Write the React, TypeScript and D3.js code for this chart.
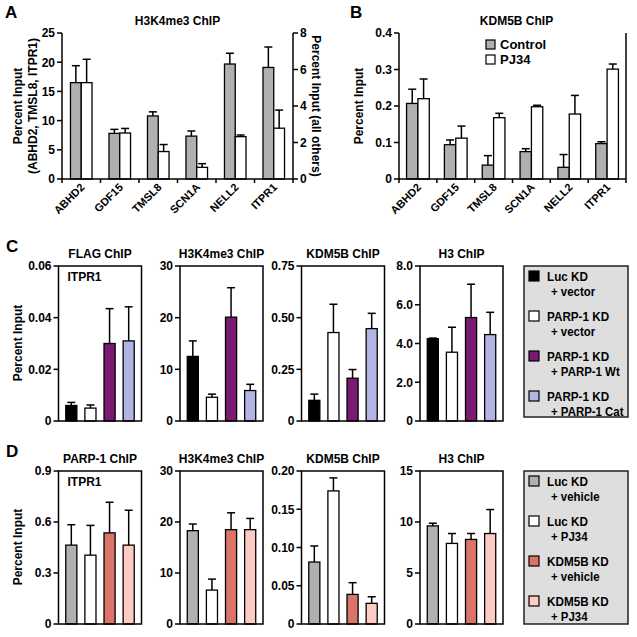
import React from "react";
import * as d3 from "d3";

const FONT = "'Liberation Sans', Arial, Helvetica, sans-serif";

// ---------- Panel A: H3K4me3 ChIP ----------
const genes = ["ABHD2", "GDF15", "TMSL8", "SCN1A", "NELL2", "ITPR1"];
const aAxisSide = ["left", "right", "left", "right", "right", "left"];
const aControl = [16.5, 2.5, 10.8, 2.35, 6.3, 19.1];
const aControlErr = [2.9, 0.22, 0.7, 0.28, 0.59, 3.5];
const aPJ34 = [16.5, 2.52, 4.7, 0.64, 2.32, 8.7];
const aPJ34Err = [4.0, 0.25, 1.2, 0.2, 0.09, 3.1];
const aLeftTicks = [0, 5, 10, 15, 20, 25];
const aRightTicks = [0, 2, 4, 6, 8];

// ---------- Panel B: KDM5B ChIP ----------
const bControl = [0.207, 0.094, 0.038, 0.075, 0.032, 0.097];
const bControlErr = [0.039, 0.013, 0.026, 0.008, 0.035, 0.005];
const bPJ34 = [0.22, 0.112, 0.168, 0.198, 0.178, 0.301];
const bPJ34Err = [0.054, 0.033, 0.012, 0.004, 0.051, 0.014];
const bTicks = [0, 0.1, 0.2, 0.3, 0.4];
const bTickLabels = ["0", "0.1", "0.2", "0.3", "0.4"];
const bSeries = ["Control", "PJ34"];

// ---------- Panel C ----------
const cConditions = ["Luc KD|+ vector", "PARP-1 KD|+ vector", "PARP-1 KD|+ PARP-1 Wt", "PARP-1 KD|+ PARP-1 Cat"];
const cColors = ["#000000", "#ffffff", "#7b1a72", "#b2b5e4"];
const cTitles = ["FLAG ChIP", "H3K4me3 ChIP", "KDM5B ChIP", "H3 ChIP"];
const cFlag = [0.006, 0.005, 0.030, 0.031];
const cFlagErr = [0.0012, 0.0012, 0.0135, 0.0132];
const cH3K4 = [12.5, 4.6, 20.1, 5.9];
const cH3K4Err = [3.0, 0.6, 5.7, 1.2];
const cKDM5B = [0.1, 0.428, 0.207, 0.447];
const cKDM5BErr = [0.03, 0.137, 0.042, 0.074];
const cH3 = [4.25, 3.55, 5.34, 4.46];
const cH3Err = [0.03, 1.29, 1.72, 1.15];
const cTicks = [[0, 0.02, 0.04, 0.06], [0, 10, 20, 30], [0, 0.25, 0.5, 0.75], [0, 2, 4, 6, 8]];
const cTickLabels = [["0", "0.02", "0.04", "0.06"], ["0", "10", "20", "30"], ["0", "0.25", "0.50", "0.75"], ["0", "2.0", "4.0", "6.0", "8.0"]];

// ---------- Panel D ----------
const dConditions = ["Luc KD|+ vehicle", "Luc KD|+ PJ34", "KDM5B KD|+ vehicle", "KDM5B KD|+ PJ34"];
const dColors = ["#b0b0b0", "#ffffff", "#db7468", "#fdcbc4"];
const dTitles = ["PARP-1 ChIP", "H3K4me3 ChIP", "KDM5B ChIP", "H3 ChIP"];
const dParp = [0.464, 0.405, 0.536, 0.464];
const dParpErr = [0.12, 0.175, 0.18, 0.205];
const dH3K4 = [18.3, 6.65, 18.5, 18.5];
const dH3K4Err = [1.3, 2.15, 3.3, 2.2];
const dKDM5B = [0.081, 0.174, 0.0387, 0.027];
const dKDM5BErr = [0.021, 0.017, 0.0153, 0.0086];
const dH3 = [9.62, 7.9, 8.29, 8.87];
const dH3Err = [0.26, 0.97, 0.58, 2.35];
const dTicks = [[0, 0.3, 0.6, 0.9], [0, 10, 20, 30], [0, 0.05, 0.1, 0.15, 0.2], [0, 5, 10, 15]];
const dTickLabels = [["0", "0.3", "0.6", "0.9"], ["0", "10", "20", "30"], ["0", "0.05", "0.10", "0.15", "0.20"], ["0", "5", "10", "15"]];

const GRAY = "#b0b0b0";
const colLefts = [58.5, 180, 301.5, 420];
const colW = 83;

function Bar({ x, w, y0, y1, fill }: any) {
  return <rect x={x} y={Math.min(y0, y1)} width={w} height={Math.abs(y0 - y1)} fill={fill} stroke="#000" strokeWidth={1.3} />;
}

function Err({ cx, yv, ye }: any) {
  return (
    <g stroke="#000" strokeWidth={1.5}>
      <line x1={cx} x2={cx} y1={yv} y2={ye} />
      <line x1={cx - 4} x2={cx + 4} y1={ye} y2={ye} />
    </g>
  );
}

function SubPlot({ x0, top, bottom, values, errs, colors, ticks, tickLabels, title, inset }: any) {
  const y = d3.scaleLinear().domain([0, ticks[ticks.length - 1]]).range([bottom, top]);
  const x = d3.scaleBand<number>().domain(values.map((_: any, i: number) => i)).range([x0, x0 + colW]).paddingInner(0.42).paddingOuter(0.38);
  const bw = x.bandwidth();
  return (
    <g>
      <text x={x0 + colW / 2} y={top - 8} textAnchor="middle" fontSize={12} fontWeight="bold">{title}</text>
      {values.map((v: number, i: number) => (
        <Bar key={"b" + i} x={x(i)} w={bw} y0={y(0)} y1={y(v)} fill={colors[i]} />
      ))}
      {values.map((v: number, i: number) => (
        <Err key={"e" + i} cx={(x(i) as number) + bw / 2} yv={y(v)} ye={y(v + errs[i])} />
      ))}
      <rect x={x0} y={top} width={colW} height={bottom - top} fill="none" stroke="#000" strokeWidth={1.5} />
      {ticks.map((t: number, i: number) => (
        <g key={"t" + i}>
          <line x1={x0 - 5} x2={x0} y1={y(t)} y2={y(t)} stroke="#000" strokeWidth={1.5} />
          <text x={x0 - 7} y={y(t)} dy="0.36em" textAnchor="end" fontSize={12} fontWeight="bold">{tickLabels[i]}</text>
        </g>
      ))}
      {inset ? <text x={x0 + 9} y={top + 15} fontSize={12} fontWeight="bold">{inset}</text> : null}
    </g>
  );
}

function Legend({ x, y, w, h, labels, colors }: any) {
  return (
    <g>
      <rect x={x} y={y} width={w} height={h} fill="#dedede" stroke="#222" strokeWidth={1.5} />
      {labels.map((lab: string, i: number) => {
        const [l1, l2] = lab.split("|");
        const yy = y + 5 + i * 40;
        return (
          <g key={i}>
            <rect x={x + 5} y={yy} width={10} height={10} fill={colors[i]} stroke="#000" strokeWidth={1.2} />
            <text transform={`translate(${x + 23},${yy + 9.5}) scale(0.9,1)`} fontSize={13} fontWeight="bold">{l1}</text>
            <text transform={`translate(${x + 27},${yy + 24.5}) scale(0.88,1)`} fontSize={13} fontWeight="bold">{l2}</text>
          </g>
        );
      })}
    </g>
  );
}

export default function App() {
  // Panel A scales
  const aL = 62, aR = 293, aT = 33, aB = 179;
  const ayL = d3.scaleLinear().domain([0, 25]).range([aB, aT]);
  const ayR = d3.scaleLinear().domain([0, 8]).range([aB, aT]);
  const ax = d3.scaleBand<string>().domain(genes).range([aL, aR]).paddingInner(0.44).paddingOuter(0.22);
  const aBw = ax.bandwidth() / 2;

  // Panel B scales
  const bL = 399, bR = 626, bT = 33, bB = 179;
  const by = d3.scaleLinear().domain([0, 0.4]).range([bB, bT]);
  const bx = d3.scaleBand<string>().domain(genes).range([bL, bR]).paddingInner(0.4).paddingOuter(0.2);
  const bBw = bx.bandwidth() / 2;

  const cVals = [cFlag, cH3K4, cKDM5B, cH3];
  const cErrs = [cFlagErr, cH3K4Err, cKDM5BErr, cH3Err];
  const dVals = [dParp, dH3K4, dKDM5B, dH3];
  const dErrs = [dParpErr, dH3K4Err, dKDM5BErr, dH3Err];

  const catTicks = (L: number, R: number) => d3.range(genes.length + 1).map((i) => L + ((R - L) * i) / genes.length);

  return (
    <svg width={637} height={637} style={{ position: "absolute", left: 0, top: 0, background: "#fff" }} fontFamily={FONT} fill="#000">
      {/* Panel letters */}
      <text x={5} y={18} fontSize={17} fontWeight="bold">A</text>
      <text x={350} y={18} fontSize={17} fontWeight="bold">B</text>
      <text x={6} y={252} fontSize={17} fontWeight="bold">C</text>
      <text x={6} y={457} fontSize={17} fontWeight="bold">D</text>

      {/* ---- Panel A ---- */}
      <text x={(aL + aR) / 2} y={25} textAnchor="middle" fontSize={12} fontWeight="bold">H3K4me3 ChIP</text>
      {genes.map((g, i) => {
        const ys = aAxisSide[i] === "left" ? ayL : ayR;
        const x0 = ax(g) as number;
        return (
          <g key={g}>
            <Bar x={x0} w={aBw} y0={ys(0)} y1={ys(aControl[i])} fill={GRAY} />
            <Bar x={x0 + aBw} w={aBw} y0={ys(0)} y1={ys(aPJ34[i])} fill="#fff" />
            <Err cx={x0 + aBw / 2} yv={ys(aControl[i])} ye={ys(aControl[i] + aControlErr[i])} />
            <Err cx={x0 + aBw * 1.5} yv={ys(aPJ34[i])} ye={ys(aPJ34[i] + aPJ34Err[i])} />
          </g>
        );
      })}
      <g stroke="#000" strokeWidth={1.5}>
        <line x1={aL} x2={aL} y1={aT} y2={aB} />
        <line x1={aR} x2={aR} y1={aT} y2={aB} />
        <line x1={aL} x2={aR} y1={aB} y2={aB} />
        {catTicks(aL, aR).map((t, i) => <line key={i} x1={t} x2={t} y1={aB} y2={aB + 4} />)}
      </g>
      {aLeftTicks.map((t) => (
        <g key={"al" + t}>
          <line x1={aL - 5} x2={aL} y1={ayL(t)} y2={ayL(t)} stroke="#000" strokeWidth={1.5} />
          <text x={aL - 7} y={ayL(t)} dy="0.36em" textAnchor="end" fontSize={12} fontWeight="bold">{t}</text>
        </g>
      ))}
      {aRightTicks.map((t) => (
        <g key={"ar" + t}>
          <line x1={aR} x2={aR + 5} y1={ayR(t)} y2={ayR(t)} stroke="#000" strokeWidth={1.5} />
          <text x={aR + 7} y={ayR(t)} dy="0.36em" textAnchor="start" fontSize={12} fontWeight="bold">{t}</text>
        </g>
      ))}
      {genes.map((g) => (
        <text key={"al" + g} transform={`translate(${(ax(g) as number) + ax.bandwidth() / 2 + 4},${aB + 9}) rotate(-45)`} textAnchor="end" fontSize={11} fontWeight="bold">{g}</text>
      ))}
      <text transform={`translate(22,${(aT + aB) / 2}) rotate(-90)`} textAnchor="middle" fontSize={12} fontWeight="bold">Percent Input</text>
      <text transform={`translate(37,${(aT + aB) / 2}) rotate(-90)`} textAnchor="middle" fontSize={12} fontWeight="bold">(ABHD2, TMSL8, ITPR1)</text>
      <text transform={`translate(312,${(aT + aB) / 2}) rotate(90)`} textAnchor="middle" fontSize={12} fontWeight="bold">Percent Input (all others)</text>

      {/* ---- Panel B ---- */}
      <text x={(bL + bR) / 2 + 4} y={25} textAnchor="middle" fontSize={12} fontWeight="bold">KDM5B ChIP</text>
      {genes.map((g, i) => {
        const x0 = bx(g) as number;
        return (
          <g key={"b" + g}>
            <Bar x={x0} w={bBw} y0={by(0)} y1={by(bControl[i])} fill={GRAY} />
            <Bar x={x0 + bBw} w={bBw} y0={by(0)} y1={by(bPJ34[i])} fill="#fff" />
            <Err cx={x0 + bBw / 2} yv={by(bControl[i])} ye={by(bControl[i] + bControlErr[i])} />
            <Err cx={x0 + bBw * 1.5} yv={by(bPJ34[i])} ye={by(bPJ34[i] + bPJ34Err[i])} />
          </g>
        );
      })}
      <g stroke="#000" strokeWidth={1.5}>
        <line x1={bL} x2={bL} y1={bT} y2={bB} />
        <line x1={bR} x2={bR} y1={bT} y2={bB} />
        <line x1={bL} x2={bR} y1={bB} y2={bB} />
        {catTicks(bL, bR).map((t, i) => <line key={i} x1={t} x2={t} y1={bB} y2={bB + 4} />)}
      </g>
      {bTicks.map((t, i) => (
        <g key={"bt" + t}>
          <line x1={bL - 5} x2={bL} y1={by(t)} y2={by(t)} stroke="#000" strokeWidth={1.5} />
          <text x={bL - 7} y={by(t)} dy="0.36em" textAnchor="end" fontSize={12} fontWeight="bold">{bTickLabels[i]}</text>
        </g>
      ))}
      {genes.map((g) => (
        <text key={"bl" + g} transform={`translate(${(bx(g) as number) + bx.bandwidth() / 2 + 4},${bB + 9}) rotate(-45)`} textAnchor="end" fontSize={11} fontWeight="bold">{g}</text>
      ))}
      <text transform={`translate(363,${(bT + bB) / 2}) rotate(-90)`} textAnchor="middle" fontSize={12} fontWeight="bold">Percent Input</text>
      {bSeries.map((s, i) => (
        <g key={s}>
          <rect x={486} y={40 + i * 15} width={9} height={9} fill={i === 0 ? GRAY : "#fff"} stroke="#000" strokeWidth={1.2} />
          <text x={500} y={48.5 + i * 15} fontSize={13} fontWeight="bold">{s}</text>
        </g>
      ))}

      {/* ---- Panel C ---- */}
      <text transform={`translate(22,343) rotate(-90)`} textAnchor="middle" fontSize={12} fontWeight="bold">Percent Input</text>
      {cTitles.map((t, i) => (
        <SubPlot key={"c" + i} x0={colLefts[i]} top={266} bottom={421} values={cVals[i]} errs={cErrs[i]} colors={cColors}
          ticks={cTicks[i]} tickLabels={cTickLabels[i]} title={t} inset={i === 0 ? "ITPR1" : null} />
      ))}
      <Legend x={524} y={266} w={104} h={151} labels={cConditions} colors={cColors} />

      {/* ---- Panel D ---- */}
      <text transform={`translate(22,547) rotate(-90)`} textAnchor="middle" fontSize={12} fontWeight="bold">Percent Input</text>
      {dTitles.map((t, i) => (
        <SubPlot key={"d" + i} x0={colLefts[i]} top={471} bottom={624} values={dVals[i]} errs={dErrs[i]} colors={dColors}
          ticks={dTicks[i]} tickLabels={dTickLabels[i]} title={t} inset={i === 0 ? "ITPR1" : null} />
      ))}
      <Legend x={524} y={471} w={104} h={153} labels={dConditions} colors={dColors} />
    </svg>
  );
}
